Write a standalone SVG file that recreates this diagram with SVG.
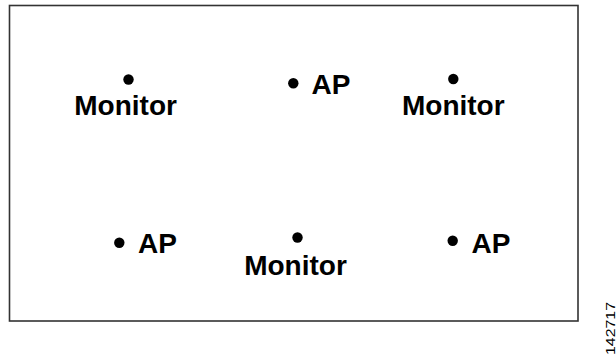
<svg xmlns="http://www.w3.org/2000/svg" width="616" height="356" viewBox="0 0 616 356">
<style>
.frame{fill:#fff;stroke:#333;stroke-width:1.6}
.dot{fill:#000}
.lbl{font-family:"Liberation Sans",Arial,sans-serif;font-weight:bold;font-size:28px;fill:#000}
.num{font-family:"Liberation Sans",Arial,sans-serif;font-size:13px;fill:#000}
</style>
<rect width="616" height="356" fill="#fff"/>
<rect id="area" class="frame" x="9.5" y="5.5" width="568.5" height="315.5"/>
<g id="monitor-1"><circle class="dot" cx="128.5" cy="79.5" r="5.2"/><text class="lbl" x="125.6" y="115" text-anchor="middle">Monitor</text></g>
<g id="ap-1"><circle class="dot" cx="293.3" cy="83.3" r="5.2"/><text class="lbl" x="311.5" y="94">AP</text></g>
<g id="monitor-2"><circle class="dot" cx="453.3" cy="79" r="5.2"/><text class="lbl" x="453.3" y="114.5" text-anchor="middle">Monitor</text></g>
<g id="ap-2"><circle class="dot" cx="119.3" cy="242.7" r="5.2"/><text class="lbl" x="138" y="253.3">AP</text></g>
<g id="monitor-3"><circle class="dot" cx="297.5" cy="237.5" r="5.2"/><text class="lbl" x="295.5" y="275" text-anchor="middle">Monitor</text></g>
<g id="ap-3"><circle class="dot" cx="452.7" cy="240.7" r="5.2"/><text class="lbl" x="471.5" y="252.5">AP</text></g>
<text class="num" transform="translate(614.5,355) rotate(-90)" textLength="53" lengthAdjust="spacingAndGlyphs">142717</text>
</svg>
